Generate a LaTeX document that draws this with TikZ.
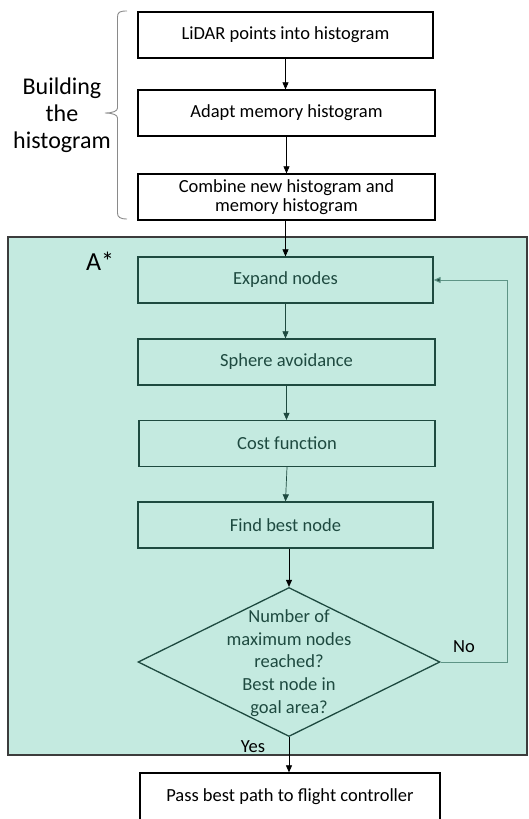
\documentclass[tikz,border=0pt]{standalone}
\usepackage{fontspec}
\setmainfont{Carlito}
\usetikzlibrary{arrows.meta,shapes.geometric}
\definecolor{tealfill}{HTML}{C4EAE0}
\definecolor{darkteal}{HTML}{1E4A40}
\definecolor{loopline}{HTML}{5E9486}
\definecolor{bordergray}{HTML}{3C3C3C}
\definecolor{bracegray}{HTML}{8A8A8A}
\tikzset{
  topbox/.style={draw=black, line width=1.3pt, fill=white, minimum height=46pt, inner sep=0pt,
    align=center, font=\fontsize{18.5}{19}\selectfont},
  abox/.style={draw=darkteal, line width=1.3pt, fill=tealfill, minimum height=46pt, inner sep=0pt,
    align=center, text=darkteal, font=\fontsize{18.5}{19}\selectfont},
  arr/.style={draw=black, line width=0.7pt, -{Triangle[length=7pt,width=6pt]}},
  aarr/.style={draw=darkteal, line width=0.7pt, -{Triangle[length=7pt,width=6pt]}},
  looparr/.style={draw=loopline, line width=1pt, -{Triangle[length=7pt,width=6pt,fill=darkteal]}},
  lbl/.style={inner sep=0pt, font=\fontsize{18.5}{19}\selectfont},
}
\begin{document}
\begin{tikzpicture}[x=1pt,y=-1pt]
\useasboundingbox (0,0) rectangle (528,819);
\clip (0,0) rectangle (528,819);
% A* region
\draw[fill=tealfill, draw=bordergray, line width=1.3pt] (8,237) rectangle (527,755);
\node[inner sep=0pt, font=\fontsize{26}{28}\selectfont] (astar) at (100,261) {A*};
% top boxes
\node[topbox, minimum width=295pt] (b1) at (285.5,35) {LiDAR points into histogram};
\node[topbox, minimum width=297pt] (b2) at (286.5,113) {Adapt memory histogram};
\node[topbox, minimum width=297pt] (b3) at (286.5,197) {Combine new histogram and\\memory histogram};
% brace
\draw[bracegray, line width=0.9pt]
  (127,11) .. controls (120,11) and (117.5,12) .. (117.5,17) -- (117.5,108)
  .. controls (117.5,111) and (113,113) .. (105,113)
  .. controls (113,113) and (117.5,115) .. (117.5,118) -- (117.5,213)
  .. controls (117.5,217) and (120,219) .. (127,219);
\node[inner sep=0pt, align=center, font=\fontsize{24}{27}\selectfont] (bth) at (62,115) {Building\\the\\histogram};
% A* boxes
\node[abox, minimum width=295pt] (expand) at (285.5,280) {Expand nodes};
\node[abox, minimum width=297pt] (sphere) at (286.5,362) {Sphere avoidance};
\node[abox, minimum width=296pt] (cost) at (287,443.5) {Cost function};
\node[abox, minimum width=295pt] (find) at (285.5,525) {Find best node};
\node[diamond, draw=darkteal, line width=1.3pt, fill=tealfill, minimum width=302pt, minimum height=149pt, inner sep=0pt] (dia) at (289,662) {};
\node[inner sep=0pt, align=center, text=darkteal, font=\fontsize{18.5}{22.7}\selectfont] (diatext) at (289,663) {Number of\\maximum nodes\\reached?\\Best node in\\goal area?};
\node[lbl] (no) at (464,647) {No};
\node[lbl] (yes) at (253,747) {Yes};
% final box
\node[topbox, minimum width=300pt, minimum height=58pt] (pass) at (290,802) {};
\node[lbl] (passtext) at (290,797) {Pass best path to flight controller};
% connectors
\draw[arr] (b1.south) -- (b1.south |- b2.north);
\draw[arr] (b2.south) -- (b2.south |- b3.north);
\draw[arr] (b3.south -| expand.north) -- (expand.north);
\draw[aarr] (expand.south) -- (expand.south |- sphere.north);
\draw[aarr] (sphere.south) -- (sphere.south |- cost.north);
\draw[aarr] (cost.south) -- (find.north);
\draw[arr] (dia.north |- find.south) -- (dia.north);
\draw[looparr] (dia.east) -- ++(67,0) |- (expand.east);
\draw[arr] (dia.south) -- (dia.south |- pass.north);
\end{tikzpicture}
\end{document}
